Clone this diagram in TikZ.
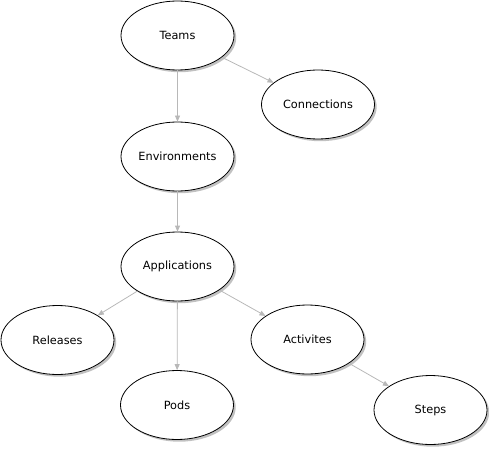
\documentclass[tikz,border=0pt]{standalone}
\usepackage{fontspec}
\setmainfont{DejaVu Sans}
\usetikzlibrary{shapes.geometric,shadows,arrows.meta}
\begin{document}
\begin{tikzpicture}[x=1pt,y=-1pt,
  entity/.style={ellipse, draw=black, line width=0.8pt, fill=white,
    minimum width=113pt, minimum height=69pt, inner sep=0pt,
    font=\fontsize{11.3}{13}\selectfont,
    drop shadow={shadow xshift=2.2pt, shadow yshift=-2.2pt, fill=black!30, opacity=0.8}},
  link/.style={draw=black!28, line width=0.8pt, -{Triangle[length=6pt,width=5pt]}}]
\useasboundingbox (0,0) rectangle (489,449);
\node[entity] (teams) at (177.5,35.5) {Teams};
\node[entity] (conn) at (318,104.5) {Connections};
\node[entity] (env) at (177.5,156.5) {Environments};
\node[entity] (apps) at (177.5,266.5) {Applications};
\node[entity] (rel) at (57.5,340) {Releases};
\node[entity] (pods) at (177,405) {Pods};
\node[entity] (act) at (307.5,339.5) {Activites};
\node[entity] (steps) at (430.5,410) {Steps};
\path[link] (teams) -- (env);
\path[link] (teams) -- (conn);
\path[link] (env) -- (apps);
\path[link] (apps) -- (rel);
\path[link] (apps) -- (pods);
\path[link] (apps) -- (act);
\path[link] (act) -- (steps);
\end{tikzpicture}
\end{document}
